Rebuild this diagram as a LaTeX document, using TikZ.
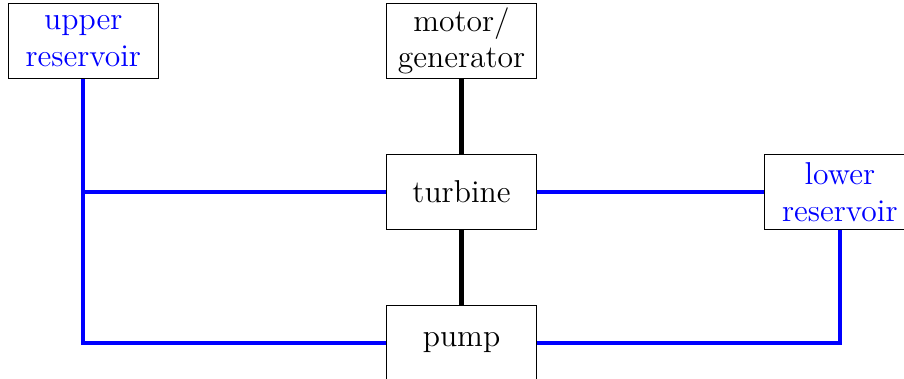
\documentclass[tikz,border=0pt]{standalone}
\usepackage{amsmath,amssymb}
\usepackage{tikz}
\usetikzlibrary{arrows.meta,calc,positioning}

\begin{document}
\begin{tikzpicture}[font=\large,node distance=1cm and 3.03cm,every node/.style={align=center},
    unit/.style={draw,fill=white,minimum width=2cm,minimum height=1cm,inner sep=1pt},
    water/.style={blue,ultra thick},
    shaft/.style={black,ultra thick}]
        \useasboundingbox (-1.11,0.545) rectangle (10.944,-4.508);
        \node[unit,text=blue] (upres) {upper\\reservoir};
        \node[unit,right=of upres] (motor) {motor/\\generator};
        \node[unit,below=of motor] (turb) {turbine};
        \node[unit,below=of turb] (pump) {pump};
        \node[unit,text=blue,right=of turb] (lowres) {lower\\reservoir};
        \coordinate (split) at (upres |- turb);
        \draw[shaft] (motor) -- (turb) -- (pump);
        \draw[water] (upres) -- (upres |- pump) -- (pump);
        \draw[water] (split) -- (turb);
        \draw[water] (turb) -- (lowres);
        \draw[water] (lowres) -- (lowres |- pump) -- (pump);
      \end{tikzpicture}
\end{document}
